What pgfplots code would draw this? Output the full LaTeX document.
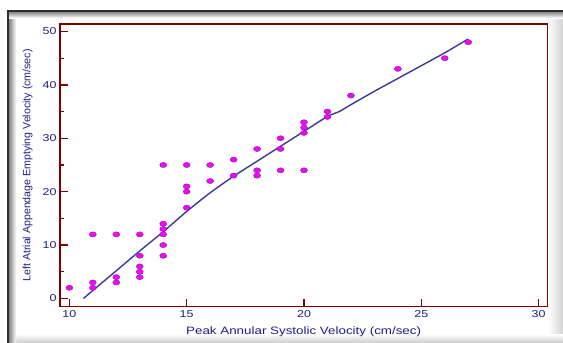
\documentclass[border=0pt]{standalone}
\usepackage{fontspec}
\setmainfont{Liberation Sans}
\newfontfamily\wide[FakeStretch=1.25]{Liberation Sans}
\usepackage{pgfplots}
\pgfplotsset{compat=1.18}
\definecolor{axred}{HTML}{800000}
\definecolor{navy}{HTML}{1E1E8C}
\definecolor{fitblue}{HTML}{3A3A9C}
\definecolor{pt}{HTML}{FF00FF}
\definecolor{ptedge}{HTML}{6A2AA8}

\begin{document}
\begin{tikzpicture}[x=1pt,y=1pt]
\path[use as bounding box, fill=white] (0,0) rectangle (563,-343);
% frame with inner shadow
\shade[left color=white, right color=gray!35] (548,-10) rectangle (563,-343);
\shade[top color=white, bottom color=gray!40] (7,-334) rectangle (563,-343);
\shade[left color=gray!75!black, right color=white] (7,-10) rectangle (16,-343);
\shade[top color=gray!75!black, bottom color=white] (7,-10) rectangle (563,-18);
\draw[gray!35!black, line width=1.5pt] (8,-343) -- (8,-11) -- (563,-11);
\begin{axis}[
  at={(60pt,-24pt)}, anchor=north west,
  scale only axis, width=487.3pt, height=282.7pt,
  xmin=9.6, xmax=30.37, ymin=-1.54, ymax=51.4,
  axis line style={axred, line width=1.3pt},
  tick style={axred, line width=1.3pt},
  tick align=inside, tick pos=left,
  major tick length=8pt, minor tick length=4pt,
  xtick={10,15,20,25,30}, ytick={0,10,20,30,40,50},
  minor ytick={5,15,25,35,45},
  /pgf/number format/assume math mode=true,
  ticklabel style={font=\wide\fontsize{10}{12}\selectfont, text=navy},
  xlabel={Peak Annular Systolic Velocity (cm/sec)},
  ylabel={Left Atrial Appendage Emptying Velocity (cm/sec)},
  xlabel style={font=\wide\fontsize{10.7}{12}\selectfont, text=navy, yshift=-3pt},
  ylabel style={font=\fontsize{10.6}{12}\selectfont, text=navy, yshift=3pt},
  clip=false,
]
\addplot[fitblue, line width=1.4pt, smooth, tension=0.3] coordinates {
(10.6,0) (11,1.5) (12,5.2) (13,8.9) (14,12.5) (15,16.3) (16,19.8) (17,22.9)
(18,25.7) (19,28.5) (20,31.3) (21,34.1) (21.5,35.0) (22,36.3) (23,38.8)
(24,41.2) (25,43.6) (26,46.0) (27,48.6)
};
\addplot[only marks, mark=*, mark size=2.6pt,
  mark options={xscale=1.35, fill=pt, draw=ptedge, line width=0.4pt}] coordinates {
(10,2) (11,12) (11,3) (11,2) (12,12) (12,4) (12,3)
(13,12) (13,8) (13,6) (13,5) (13,4)
(14,25) (14,14) (14,13) (14,12) (14,10) (14,8)
(15,25) (15,21) (15,20) (15,17)
(16,25) (16,22) (17,26) (17,23)
(18,28) (18,24) (18,23) (19,30) (19,28) (19,24)
(20,33) (20,32) (20,31) (20,24) (21,35) (21,34)
(22,38) (24,43) (26,45) (27,48)
};
\end{axis}
\end{tikzpicture}
\end{document}
